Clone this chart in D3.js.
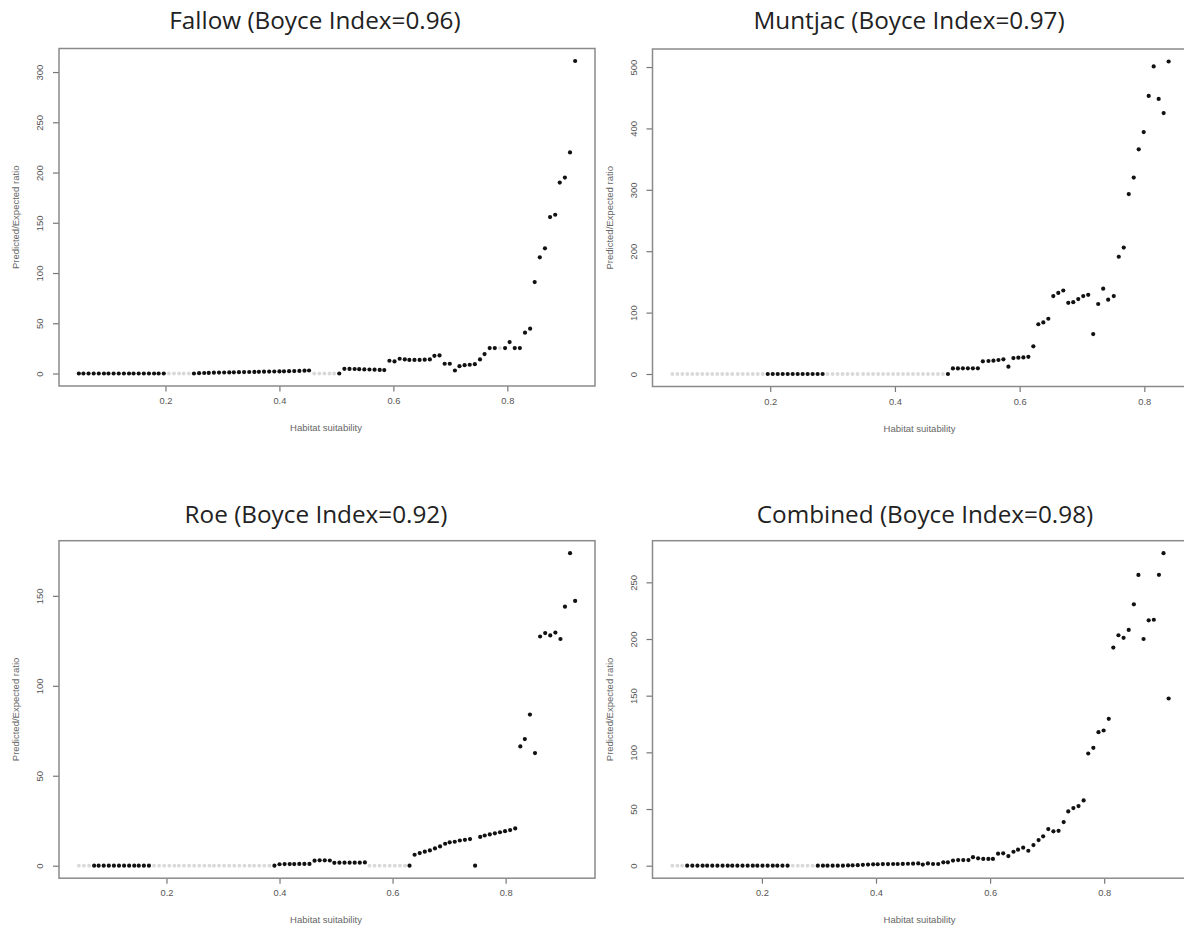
<!DOCTYPE html>
<html>
<head>
<meta charset="utf-8">
<script src="https://cdn.jsdelivr.net/npm/d3@7"></script>
<style>
  body { margin: 0; background: #fff; }
  text { font-family: "Liberation Sans", Arial, sans-serif; }
</style>
</head>
<body>
<svg id="chart" width="1184" height="932"></svg>
<script>
// habitat suitability bins and predicted/expected ratios
// filled: 1 = black point, 0 = light grey point
const fallowHS = [
  .048,.056,.065,.074,.083,.092,.100,.109,.118,.127,
  .136,.144,.153,.162,.171,.180,.188,.197,.206,.215,
  .224,.232,.241,.250,.259,.268,.276,.285,.294,.303,
  .312,.320,.329,.338,.347,.356,.364,.373,.382,.391,
  .400,.408,.417,.426,.435,.444,.452,.461,.470,.479,
  .488,.496,.505,.514,.523,.532,.540,.549,.558,.567,
  .576,.584,.593,.602,.611,.620,.628,.637,.646,.655,
  .664,.672,.681,.690,.699,.708,.716,.725,.734,.743,
  .752,.760,.769,.778,.787,.796,.804,.813,.822,.831,
  .840,.848,.857,.866,.875,.884,.892,.901,.910,.919];
const fallowRatio = [
  0,0,0,0,0,0,0,0,0,0,
  0,0,0,0,0,0,0,0,0,0,
  0,0,0,0,0.3,0.5,0.6,0.8,0.9,1.0,
  1.1,1.2,1.3,1.4,1.5,1.6,1.7,1.8,1.9,2.0,
  2.1,2.2,2.3,2.4,2.6,2.8,3.0,0,0,0,
  0,0,0,4.7,4.6,4.5,4.3,4.1,4.0,3.8,
  3.6,3.4,12.7,12,14.7,14,13.5,13.5,13.5,13.8,
  14,17.6,18,9.7,9.7,3,7.3,8.3,8.7,9.3,
  14,19.3,25.3,25.3,25.3,25.3,31.3,25.3,25.3,40.6,
  44.6,91,115.6,124.6,155.7,158,190,195,220,311];
const fallowFilled =
  "1111111111" + "1111111100" + "0001111111" + "1111111111" + "1111111000" +
  "0011111111" + "1111111111" + "1111111111" + "1111011111" + "1111111111";

const muntjacHS = [
  .043,.051,.059,.067,.075,.083,.091,.099,.107,.115,
  .123,.131,.139,.148,.156,.164,.172,.180,.188,.196,
  .204,.212,.220,.228,.236,.244,.252,.260,.268,.276,
  .284,.292,.300,.308,.316,.324,.332,.340,.349,.357,
  .365,.373,.381,.389,.397,.405,.413,.421,.429,.437,
  .445,.453,.461,.469,.477,.485,.493,.501,.509,.517,
  .525,.533,.541,.550,.558,.566,.574,.582,.590,.598,
  .606,.614,.622,.630,.638,.646,.654,.662,.670,.678,
  .686,.694,.702,.710,.718,.726,.734,.742,.751,.759,
  .767,.775,.783,.791,.799,.807,.815,.823,.831,.839];
const muntjacRatio = [
  0,0,0,0,0,0,0,0,0,0,
  0,0,0,0,0,0,0,0,0,0,
  0,0,0,0,0,0,0,0,0,0,
  0,0,0,0,0,0,0,0,0,0,
  0,0,0,0,0,0,0,0,0,0,
  0,0,0,0,0,0,9,9,9.2,9.2,
  9.2,9.2,20.7,21.2,21.7,22.8,23.9,12,26,26.6,
  27,28,45,81,84,90,127,132,136,116,
  117,122,127,129,65,114,139,121,127,191,
  206,293,320,366,394,453,501,448,425,509];
const muntjacFilled =
  "0000000000" + "0000000001" + "1111111111" + "1000000000" + "0000000000" +
  "0000011111" + "1111111111" + "1111111111" + "1111111111" + "1111111111";

const roeHS = [
  .045,.054,.063,.072,.080,.089,.098,.107,.116,.125,
  .134,.143,.151,.160,.169,.178,.187,.196,.205,.214,
  .222,.231,.240,.249,.258,.267,.276,.284,.293,.302,
  .311,.320,.329,.338,.347,.355,.364,.373,.382,.391,
  .400,.409,.418,.426,.435,.444,.453,.462,.471,.480,
  .489,.497,.506,.515,.524,.533,.542,.551,.559,.568,
  .577,.586,.595,.604,.613,.622,.630,.639,.648,.657,
  .666,.675,.684,.693,.701,.710,.719,.728,.737,.746,
  .755,.763,.772,.781,.790,.799,.808,.817,.826,.834,
  .843,.852,.861,.870,.879,.888,.897,.905,.914,.923];
const roeRatio = [
  0,0,0,0,0,0,0,0,0,0,
  0,0,0,0,0,0,0,0,0,0,
  0,0,0,0,0,0,0,0,0,0,
  0,0,0,0,0,0,0,0,0,0,
  0.8,0.9,0.9,0.9,1.0,1.0,1.0,2.8,3.0,3.0,
  2.9,1.6,1.7,1.7,1.7,1.7,1.7,1.8,0,0,
  0,0,0,0,0,0,0,6.1,7,7.8,
  8.5,9.6,10.7,12.2,13,13.3,14,14.4,14.8,0,
  16,16.8,17.4,18,18.6,19.2,19.8,20.7,66.3,70.4,
  84,62.6,127.4,129.3,128,129.6,126,144,173.7,147.2];
const roeFilled =
  "0001111111" + "1111100000" + "0000000000" + "0000000001" + "1111111111" +
  "1111111100" + "0000001111" + "1111111111" + "1111111111" + "1111111111";

const combinedHS = [
  .043,.052,.060,.069,.078,.087,.096,.104,.113,.122,
  .131,.140,.148,.157,.166,.175,.184,.192,.201,.210,
  .219,.227,.236,.245,.254,.263,.271,.280,.289,.298,
  .307,.315,.324,.333,.342,.351,.359,.368,.377,.386,
  .395,.403,.412,.421,.430,.438,.447,.456,.465,.474,
  .482,.491,.500,.509,.518,.526,.535,.544,.553,.562,
  .570,.579,.588,.597,.605,.614,.623,.632,.641,.649,
  .658,.667,.676,.685,.693,.702,.711,.720,.729,.737,
  .746,.755,.764,.772,.781,.790,.799,.808,.816,.825,
  .834,.843,.852,.860,.869,.878,.887,.896,.904,.913];
const combinedRatio = [
  0,0,0,0,0,0,0,0,0,0,
  0,0,0,0,0,0,0,0,0,0,
  0,0,0,0,0,0,0,0,0,0,
  0,0,0,0,0,0.2,0.3,0.5,0.8,1.0,
  1.2,1.3,1.4,1.4,1.5,1.5,1.6,1.7,1.8,2,
  1,2,1.5,1.5,3,3,4.5,5,5,5,
  7.5,6.5,6,6,6,10.6,10.9,8.5,12.3,14.1,
  15.9,13.2,18.2,22.6,25.9,32.3,30.3,30.8,38.5,47.9,
  50.8,52.6,57.6,99,104,117.8,119.3,129.6,192.4,203.3,
  201,208,230.6,256.5,200,216.5,217,256.6,275.7,147.5];
const combinedFilled =
  "0001111111" + "1111111111" + "1111000001" + "1111111111" + "1111111111" +
  "1111111111" + "1111111111" + "1111111111" + "1111111111" + "1111111111";

const xTicks = [0.2, 0.4, 0.6, 0.8];
const fallowYTicks = [0, 50, 100, 150, 200, 250, 300];
const muntjacYTicks = [0, 100, 200, 300, 400, 500];
const roeYTicks = [0, 50, 100, 150];
const combinedYTicks = [0, 50, 100, 150, 200, 250];

const panels = [
  { title: "Fallow (Boyce Index=0.96)", hs: fallowHS, ratio: fallowRatio, filled: fallowFilled,
    yTicks: fallowYTicks, left: 59, top: 48.5, titleX: 315, titleY: 29 },
  { title: "Muntjac (Boyce Index=0.97)", hs: muntjacHS, ratio: muntjacRatio, filled: muntjacFilled,
    yTicks: muntjacYTicks, left: 652.5, top: 49, titleX: 909, titleY: 29 },
  { title: "Roe (Boyce Index=0.92)", hs: roeHS, ratio: roeRatio, filled: roeFilled,
    yTicks: roeYTicks, left: 59, top: 540.7, titleX: 316, titleY: 522.5 },
  { title: "Combined (Boyce Index=0.98)", hs: combinedHS, ratio: combinedRatio, filled: combinedFilled,
    yTicks: combinedYTicks, left: 652.5, top: 540.7, titleX: 925, titleY: 522.5 }
];

const plotW = 536, plotH = 337.5;
const svg = d3.select("#chart");

// R-style axis range: data range padded by 4% on each side
function rRange(vals) {
  const [lo, hi] = d3.extent(vals);
  const pad = (hi - lo) * 0.04;
  return [lo - pad, hi + pad];
}

panels.forEach(p => {
  const g = svg.append("g");
  const bottom = p.top + plotH;

  const x = d3.scaleLinear().domain(rRange(p.hs)).range([p.left, p.left + plotW]);
  const y = d3.scaleLinear().domain(rRange(p.ratio)).range([bottom, p.top]);

  g.append("text")
    .attr("x", p.titleX).attr("y", p.titleY)
    .attr("text-anchor", "middle")
    .style("font-family", "'Open Sans', sans-serif")
    .style("font-size", "24.3px")
    .attr("fill", "#222")
    .text(p.title);

  const xAxis = g.append("g")
    .attr("transform", "translate(0," + bottom + ")")
    .call(d3.axisBottom(x).tickValues(xTicks).tickSize(5.5).tickPadding(6).tickFormat(d3.format(".1f")));
  xAxis.select(".domain").remove();
  xAxis.selectAll("line").attr("stroke", "#777").attr("stroke-width", 1.2);
  xAxis.selectAll("text").attr("fill", "#555").style("font-size", "9.3px");

  const yAxis = g.append("g")
    .attr("transform", "translate(" + p.left + ",0)")
    .call(d3.axisLeft(y).tickValues(p.yTicks).tickSize(6).tickFormat(d3.format("d")));
  yAxis.select(".domain").remove();
  yAxis.selectAll("line").attr("stroke", "#777").attr("stroke-width", 1.2);
  yAxis.selectAll("text")
    .attr("fill", "#555").style("font-size", "9.5px")
    .attr("x", null)
    .attr("text-anchor", "middle")
    .attr("transform", "translate(-19,0) rotate(-90)")
    .attr("dy", "0.35em");

  g.append("rect")
    .attr("x", p.left).attr("y", p.top)
    .attr("width", plotW).attr("height", plotH)
    .attr("fill", "none").attr("stroke", "#8a8a8a").attr("stroke-width", 1.5);

  g.append("text")
    .attr("transform", "translate(" + (p.left - 43) + "," + (p.top + plotH / 2) + ") rotate(-90)")
    .attr("text-anchor", "middle").attr("dy", "0.35em")
    .attr("fill", "#666").style("font-size", "9.5px")
    .text("Predicted/Expected ratio");

  g.append("text")
    .attr("x", p.left + plotW / 2 - 1).attr("y", bottom + 45)
    .attr("text-anchor", "middle")
    .attr("fill", "#666").style("font-size", "9.5px")
    .text("Habitat suitability");

  const pts = p.hs.map((h, i) => ({ h: h, r: p.ratio[i], f: p.filled[i] === "1" }));

  g.selectAll("circle.grey")
    .data(pts.filter(d => !d.f))
    .enter().append("circle")
    .attr("class", "grey")
    .attr("cx", d => x(d.h)).attr("cy", d => y(d.r))
    .attr("r", 1.9).attr("fill", "#d9d9d9");

  g.selectAll("circle.black")
    .data(pts.filter(d => d.f))
    .enter().append("circle")
    .attr("class", "black")
    .attr("cx", d => x(d.h)).attr("cy", d => y(d.r))
    .attr("r", 2.1).attr("fill", "#111");
});
</script>
</body>
</html>
